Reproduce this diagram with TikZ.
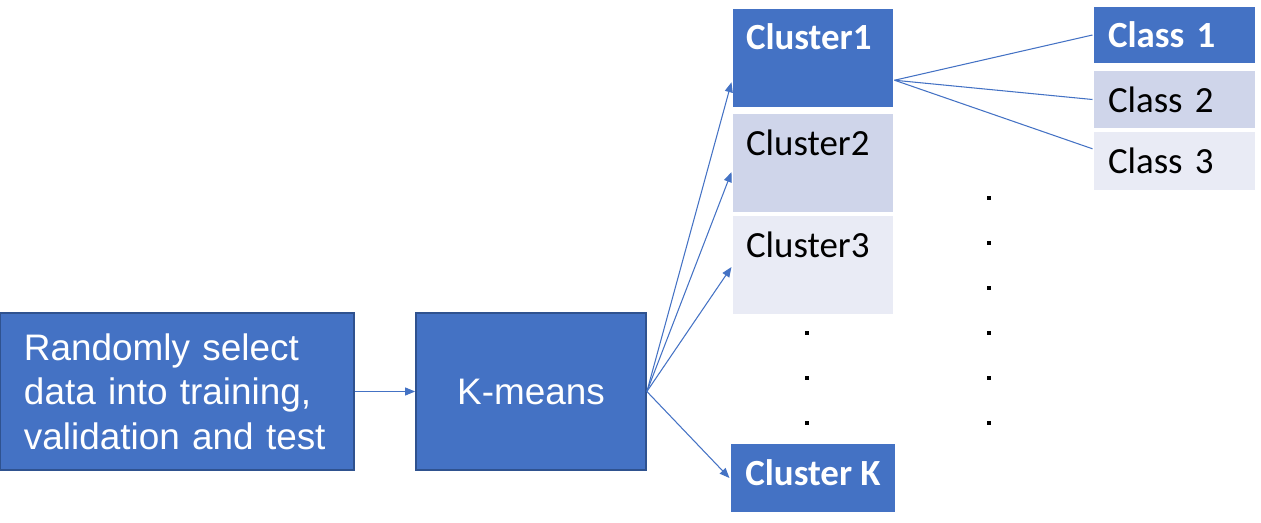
\documentclass[tikz,border=0pt]{standalone}
\usepackage{fontspec}
\setmainfont{Liberation Sans}
\newfontfamily\calibri{Carlito}
\usetikzlibrary{arrows.meta,calc,positioning}
\definecolor{boxblue}{HTML}{4472C4}
\definecolor{edgeblue}{HTML}{2F528F}
\definecolor{paleblue}{HTML}{CFD5EA}
\definecolor{paleblue2}{HTML}{E9EBF5}

\begin{document}
\begin{tikzpicture}[font=\fontsize{21}{25.3}\selectfont,
  mainbox/.style={draw=edgeblue,line width=1pt,fill=boxblue,text=white,minimum width=4.6cm,minimum height=3.14cm,inner sep=0pt},
  clfont/.style={font=\calibri\fontsize{21}{25}\selectfont},
  clbold/.style={font=\calibri\bfseries\fontsize{21}{25}\selectfont,fill=boxblue,text=white},
  clbox/.style={clfont,draw=white,line width=0.6pt,inner xsep=0.28cm,inner ysep=0pt,text width=2.68cm,text height=0.84cm,text depth=1.16cm,align=left},
  classbox/.style={clfont,draw=white,line width=0.6pt,inner xsep=0.3cm,text width=2.66cm,minimum height=1.16cm,align=left},
  link/.style={boxblue,line width=0.6pt},
  tip/.style={-{Triangle[length=0.2cm,width=0.16cm]}},
  dot/.style={fill=black,inner sep=0pt,minimum size=0.08cm}]
\useasboundingbox (0,0) rectangle (25.22,10.44);

\node[mainbox,minimum width=7.08cm,text width=6.12cm,align=left] (sel) at (3.54,2.61) {Randomly select\\data into training,\\validation and test};
\node[mainbox] (km) at (10.62,2.61) {K-means};

\node[clbox,clbold] (c1) at (16.26,9.28) {Cluster1};
\node[clbox,fill=paleblue] (c2) at (16.26,7.18) {Cluster2};
\node[clbox,fill=paleblue2] (c3) at (16.26,5.14) {Cluster3};
\node[clfont,clbold,draw=white,line width=0.6pt,minimum width=3.32cm,minimum height=1.4cm,text depth=0.2cm] (ck) at (16.26,0.88) {Cluster K};

\node[classbox,clbold] (k1) at (23.49,9.74) {Class 1};
\node[classbox,fill=paleblue] (k2) at (23.49,8.45) {Class 2};
\node[classbox,fill=paleblue2,minimum height=1.2cm] (k3) at (23.49,7.22) {Class 3};

\foreach \i/\y in {1/3.78,2/2.88,3/1.98} \node[dot] (ld\i) at (16.14,\y) {};
\foreach \i/\y in {1/6.48,2/5.58,3/4.68,4/3.78,5/2.88,6/1.98} \node[dot] (rd\i) at (19.78,\y) {};

\draw[link,tip] (sel.east) -- (km.west);
\draw[link,tip] (km.east) -- ($(c1.south west)!0.26!(c1.north west)$);
\draw[link,tip] (km.east) -- ($(c2.south west)!0.41!(c2.north west)$);
\draw[link,tip] (km.east) -- ($(c3.south west)!0.48!(c3.north west)$);
\draw[link,tip] (km.east) -- (ck.west);

\coordinate (fan) at ($(c1.south east)!0.28!(c1.north east)$);
\draw[link] (fan) -- (k1.west);
\draw[link] (fan) -- (k2.west);
\draw[link] (fan) -- ($(k3.south west)!0.7!(k3.north west)$);
\end{tikzpicture}
\end{document}
